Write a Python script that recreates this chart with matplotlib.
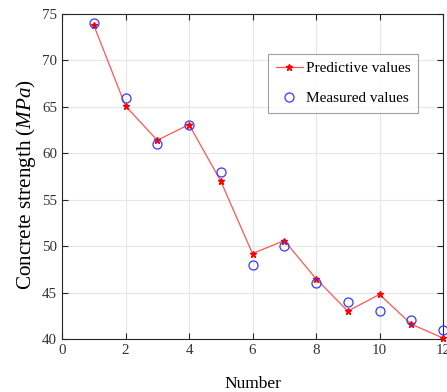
import matplotlib
matplotlib.use("Agg")
import matplotlib.pyplot as plt

number = [1, 2, 3, 4, 5, 6, 7, 8, 9, 10, 11, 12]
predictive = [73.8, 65.1, 61.4, 63.1, 57.0, 49.2, 50.6, 46.5, 43.0, 44.8, 41.6, 40.1]
measured = [74, 66, 61, 63, 58, 48, 50, 46, 44, 43, 42, 41]
xticks = [0, 2, 4, 6, 8, 10, 12]
yticks = [40, 45, 50, 55, 60, 65, 70, 75]

plt.rcParams['font.family'] = ['Liberation Serif', 'DejaVu Serif']
plt.rcParams['mathtext.fontset'] = 'custom'
plt.rcParams['mathtext.it'] = 'Liberation Serif:italic'
plt.rcParams['mathtext.rm'] = 'Liberation Serif'

fig = plt.figure(figsize=(4.47, 3.92), dpi=100)
ax = fig.add_axes([62/447, 53/392, 381/447, 325/392])

ax.plot(number, predictive, color='#ff5555', lw=0.9, marker='*', ms=5,
        mfc='red', mec='red', label='Predictive values', clip_on=False, zorder=3)
ax.plot(number, measured, ls='none', marker='o', ms=6.5, mfc='none',
        mec='#3838ff', mew=0.9, label='Measured values', clip_on=False, zorder=4)

ax.set_xlim(0, 12)
ax.set_ylim(40, 75)
ax.set_xticks(xticks)
ax.set_yticks(yticks)
ax.grid(True, color='#e6e6e6', lw=0.8)
ax.set_axisbelow(True)
ax.tick_params(direction='in', top=True, right=True, labelsize=10.8,
               colors='#262626', length=4, width=0.8)
for t in ax.get_xticklabels() + ax.get_yticklabels():
    t.set_color('#333333')
for s in ax.spines.values():
    s.set_color('#262626')
    s.set_linewidth(0.8)

ax.set_xlabel('Number', fontsize=12.5, labelpad=14)
ax.set_ylabel('Concrete strength ($MPa$)', fontsize=15.2)
ax.yaxis.set_label_coords(-0.064, 0.477)

leg = ax.legend(loc='upper left', bbox_to_anchor=(206/381, 1 - 40/325),
                fontsize=11, frameon=True, fancybox=False, edgecolor='#888888',
                handlelength=1.8, borderpad=0.5, labelspacing=1.05,
                handletextpad=0.2, borderaxespad=0)
leg.get_frame().set_linewidth(0.8)

fig.savefig('out.png', dpi=100)
